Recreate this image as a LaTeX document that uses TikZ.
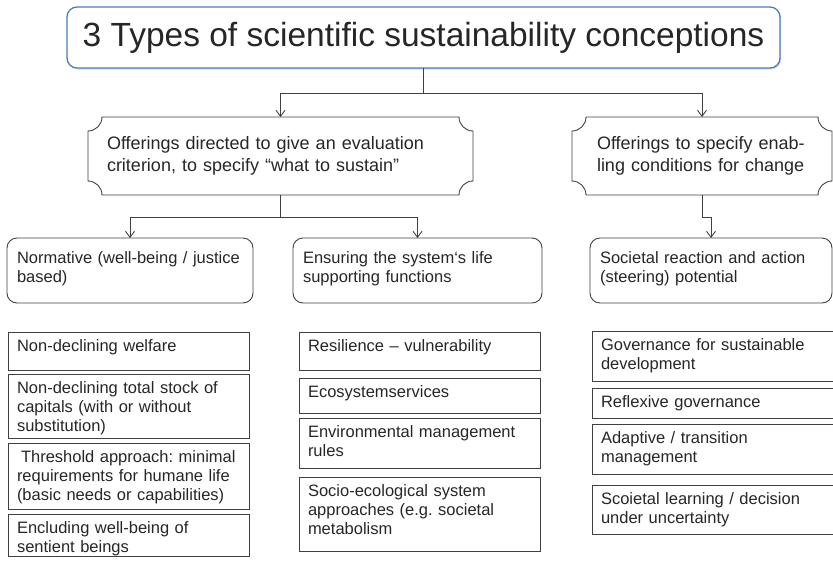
\documentclass[tikz,border=0pt]{standalone}
\usepackage{fontspec}
\setmainfont{Liberation Sans}
\usetikzlibrary{positioning,arrows.meta,shadows}
\definecolor{titleblue}{RGB}{74,126,187}
\definecolor{linegray}{RGB}{64,64,64}
\definecolor{textgray}{RGB}{38,38,38}
\frenchspacing

\begin{document}
\begin{tikzpicture}[x=1pt, y=1pt,
                every node/.append style={text=textgray, outer sep=0pt},
                titlebox/.style={draw=titleblue, line width=1.3pt, rounded corners=10pt, fill=white,
                    minimum width=713pt, minimum height=61pt, font=\fontsize{33.5}{40}\selectfont,
                    drop shadow={shadow xshift=1.2pt, shadow yshift=-1.5pt, opacity=.3}},
                plaque/.style={minimum height=78pt, align=left, font=\fontsize{18}{22}\selectfont},
                plaqueline/.style={draw=linegray, line width=0.9pt},
                rbox/.style={draw=linegray, line width=0.9pt, rounded corners=10pt, anchor=north west,
                    align=left, inner xsep=10pt, inner ysep=8pt, text height=17pt, text depth=32pt,
                    font=\fontsize{16.5}{19.5}\selectfont},
                lbox/.style={draw=linegray, line width=1pt, align=left, inner xsep=9pt, inner ysep=7pt,
                    text height=12.5pt, text depth=#1-26.5pt, font=\fontsize{16.5}{19}\selectfont},
                conn/.style={draw=linegray, line width=0.9pt},
                arr/.style={conn, -{Straight Barb[length=6pt, width=9pt]}}]
                \clip (0,0) rectangle (833,-566);

                \node[titlebox] (title) at (423.5,-37.5) {3 Types of scientific sustainability conceptions};

                \node[plaque, text width=347pt, inner xsep=19pt] (offerL) at (280.5,-156)
                    {Offerings directed to give an evaluation\\criterion, to specify “what to sustain”};
                \node[plaque, text width=210pt, inner xsep=25pt] (offerR) at (702,-156)
                    {Offerings to specify enab-\\ling conditions for change};
                \foreach \p in {offerL,offerR}
                    \draw[plaqueline] ([xshift=14pt]\p.north west) -- ([xshift=-14pt]\p.north east)
                        arc[start angle=180, end angle=270, radius=14pt] -- ([yshift=14pt]\p.south east)
                        arc[start angle=90, end angle=180, radius=14pt] -- ([xshift=14pt]\p.south west)
                        arc[start angle=0, end angle=90, radius=14pt] -- ([yshift=-14pt]\p.north west)
                        arc[start angle=-90, end angle=0, radius=14pt] -- cycle;

                \node[rbox, text width=226pt] (norm) at (7,-238) {Normative (well-being / justice\\based)};
                \node[rbox, text width=229pt] (ensure) at (293,-238) {Ensuring the system‘s life\\supporting functions};
                \node[rbox, text width=222pt] (react) at (590,-238) {Societal reaction and action\\(steering) potential};

                \begin{scope}[lbox/.append style={text width=223pt}]
                \node[lbox=38pt, anchor=north west] (welfare) at (8,-332) {Non-declining welfare};
                \node[lbox=64pt, below=4pt of welfare] (capital) {Non-declining total stock of\\capitals (with or without\\substitution)};
                \node[lbox=66pt, below=5pt of capital] (threshold) {\hspace*{4pt}Threshold approach: minimal\\requirements for humane life\\(basic needs or capabilities)};
                \node[lbox=42pt, below=5pt of threshold] (sentient) {Encluding well-being of\\sentient beings};
                \end{scope}

                \begin{scope}[lbox/.append style={text width=223pt}]
                \node[lbox=38pt, anchor=north west] (resilience) at (299,-332) {Resilience – vulnerability};
                \node[lbox=35pt, below=8pt of resilience] (services) {Ecosystemservices};
                \node[lbox=50pt, below=5pt of services] (rules) {Environmental management\\rules};
                \node[lbox=74pt, below=9pt of rules] (metabolism) {Socio-ecological system\\approaches (e.g. societal\\metabolism};
                \end{scope}

                \begin{scope}[lbox/.append style={text width=230pt}]
                \node[lbox=50pt, anchor=north west] (govern) at (592,-331) {Governance for sustainable\\development};
                \node[lbox=30pt, below=7pt of govern] (reflexive) {Reflexive governance};
                \node[lbox=50pt, below=6pt of reflexive] (adaptive) {Adaptive / transition\\management};
                \node[lbox=49pt, below=11pt of adaptive] (learning) {Scoietal learning / decision\\under uncertainty};
                \end{scope}

                \coordinate (top) at ([yshift=-25pt]title.south);
                \draw[conn] (title.south) -- (top);
                \draw[arr] (top) -| (offerL.north);
                \draw[arr] (top) -| (offerR.north);

                \coordinate (forkL) at ([yshift=-22pt]offerL.south);
                \draw[conn] (offerL.south) -- (forkL);
                \draw[arr] (forkL) -| (norm.north);
                \draw[arr] (forkL) -| (ensure.north);

                \draw[arr] (offerR.south) -- ++(0,-22) -| (react.north);
\end{tikzpicture}
\end{document}
